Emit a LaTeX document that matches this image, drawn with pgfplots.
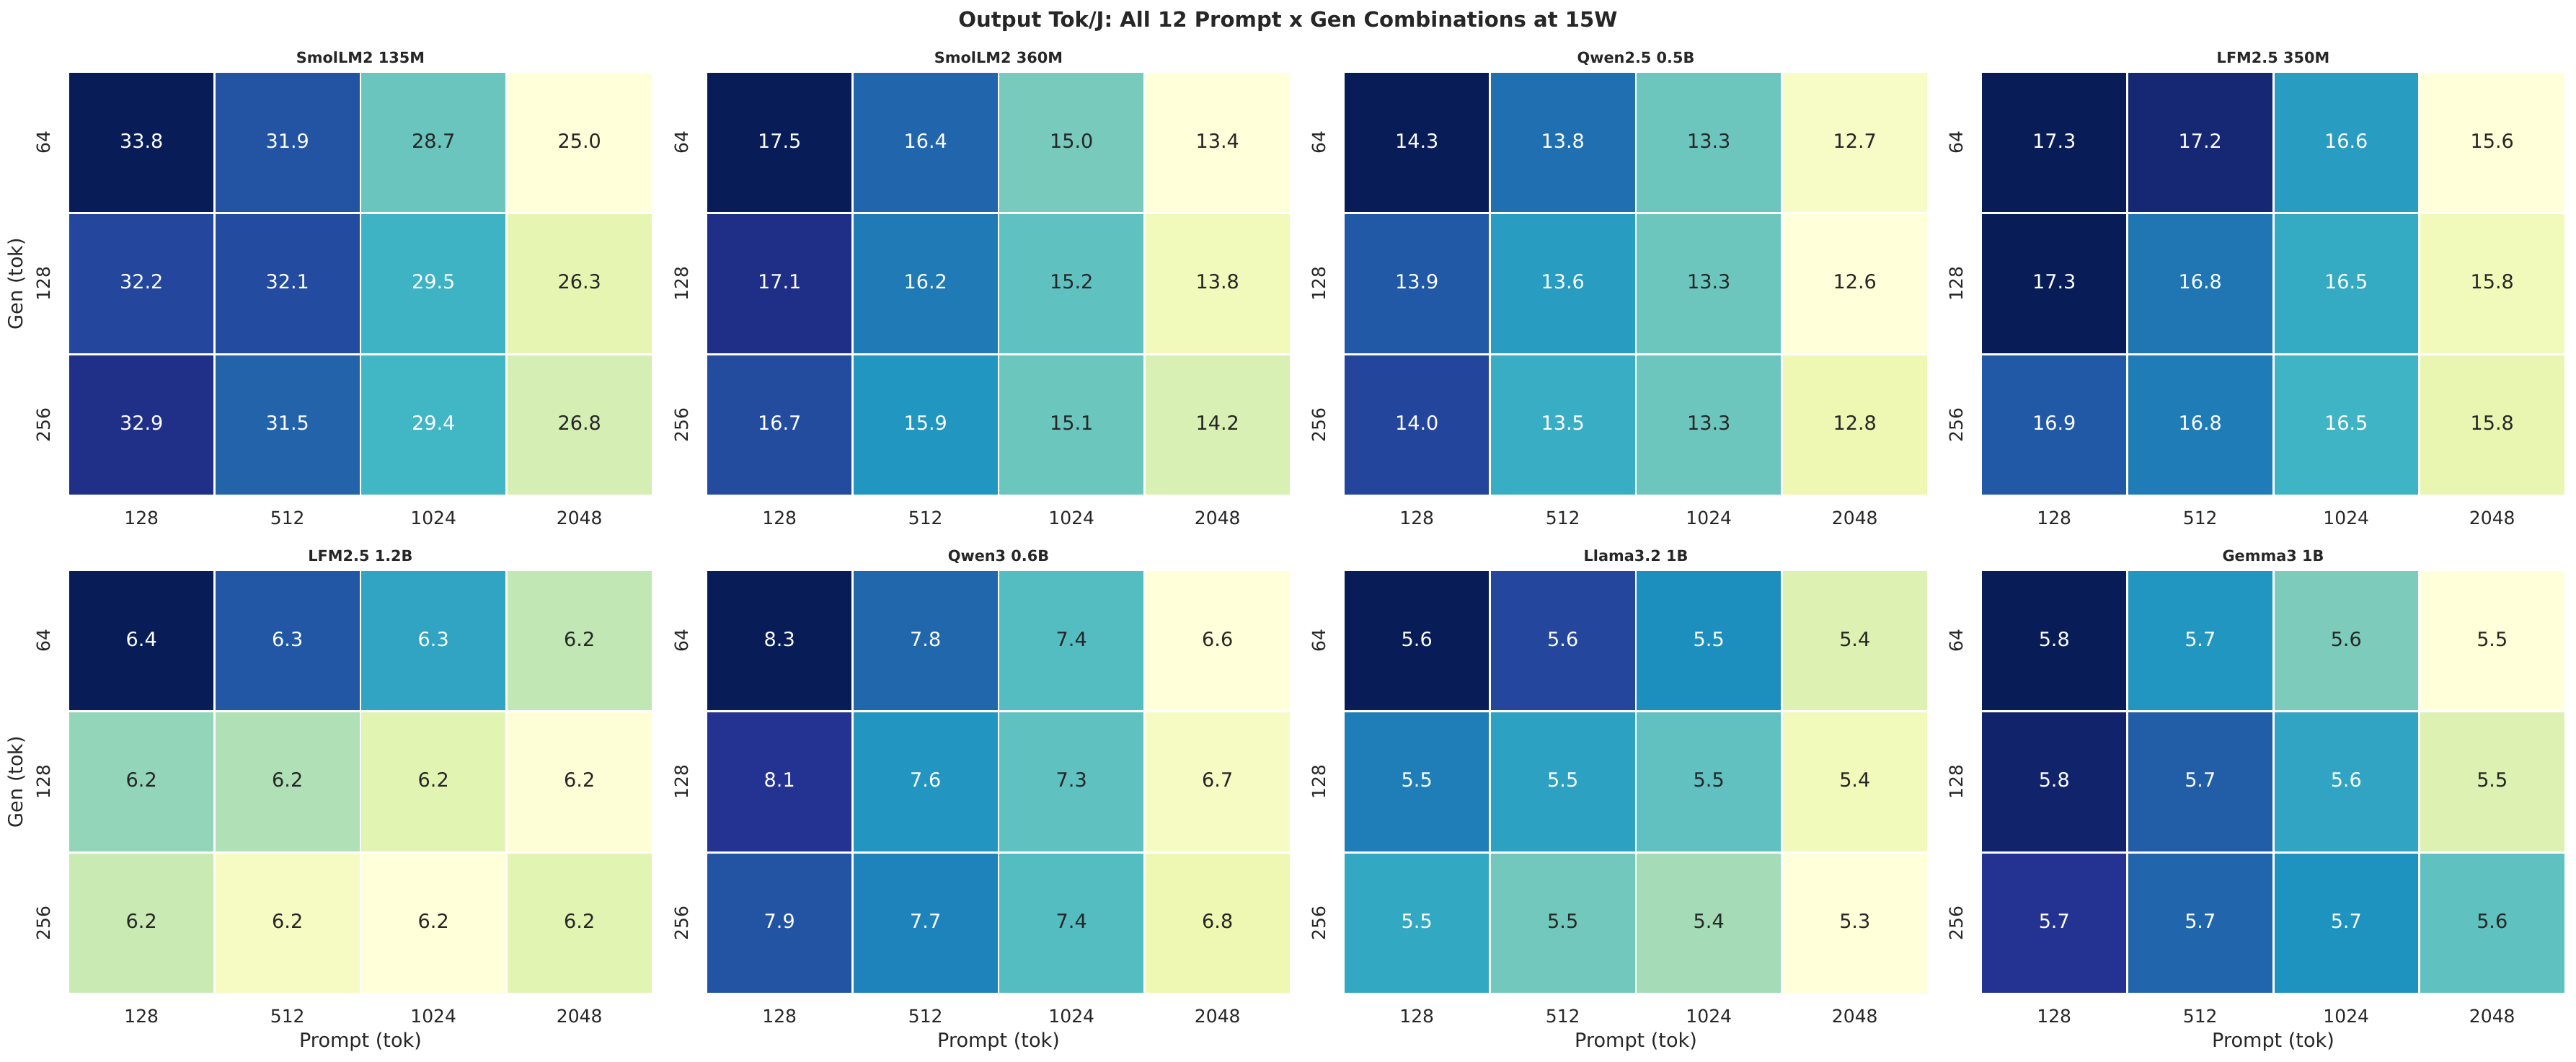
\documentclass[border=0pt]{standalone}
\usepackage{pgfplots}
\pgfplotsset{compat=1.18}
\usepackage{pgfplotstable}
\usepackage{fontspec}
\setmainfont{DejaVu Sans}
\definecolor{tdark}{RGB}{38,38,38}
\pgfplotsset{colormap={ylgnbu}{rgb255=(255,255,217) rgb255=(237,248,177) rgb255=(199,233,180) rgb255=(127,205,187) rgb255=(65,182,196) rgb255=(29,145,192) rgb255=(34,94,168) rgb255=(37,52,148) rgb255=(8,29,88)}}
\newcommand\annfont{\fontsize{13}{15.6}\selectfont}
\newcommand\tickfont{\fontsize{12}{14.4}\selectfont}
\newcommand\labfont{\fontsize{13}{15.6}\selectfont}
\newcommand\ttlfont{\fontsize{10}{12}\selectfont\bfseries}
\newcommand\supfont{\fontsize{14}{16.8}\selectfont\bfseries}

% x = prompt index (128,512,1024,2048), y = gen index (64,128,256), v = tok/J, w = white text flag
\pgfplotstableread{
x y v w
0 0 33.8 1
1 0 31.9 1
2 0 28.7 0
3 0 25.0 0
0 1 32.2 1
1 1 32.1 1
2 1 29.5 1
3 1 26.3 0
0 2 32.9 1
1 2 31.5 1
2 2 29.4 1
3 2 26.8 0
}\tA
\pgfplotstableread{
x y v w
0 0 17.5 1
1 0 16.4 1
2 0 15.0 0
3 0 13.4 0
0 1 17.1 1
1 1 16.2 1
2 1 15.2 0
3 1 13.8 0
0 2 16.7 1
1 2 15.9 1
2 2 15.1 0
3 2 14.2 0
}\tB
\pgfplotstableread{
x y v w
0 0 14.3 1
1 0 13.8 1
2 0 13.3 0
3 0 12.7 0
0 1 13.9 1
1 1 13.6 1
2 1 13.3 0
3 1 12.6 0
0 2 14.0 1
1 2 13.5 1
2 2 13.3 0
3 2 12.8 0
}\tC
\pgfplotstableread{
x y v w
0 0 17.3 1
1 0 17.2 1
2 0 16.6 1
3 0 15.6 0
0 1 17.3 1
1 1 16.78 1
2 1 16.52 1
3 1 15.76 0
0 2 16.9 1
1 2 16.75 1
2 2 16.46 1
3 2 15.84 0
}\tD
\pgfplotstableread{
x y v w
0 0 6.37 1
1 0 6.324 1
2 0 6.282 1
3 0 6.222 0
0 1 6.238 0
1 1 6.228 0
2 1 6.202 0
3 1 6.172 0
0 2 6.218 0
1 2 6.184 0
2 2 6.17 0
3 2 6.202 0
}\tE
\pgfplotstableread{
x y v w
0 0 8.31 1
1 0 7.84 1
2 0 7.38 0
3 0 6.58 0
0 1 8.10 1
1 1 7.63 1
2 1 7.34 0
3 1 6.70 0
0 2 7.93 1
1 2 7.72 1
2 2 7.38 0
3 2 6.79 0
}\tF
\pgfplotstableread{
x y v w
0 0 5.64 1
1 0 5.584 1
2 0 5.525 1
3 0 5.386 0
0 1 5.538 1
1 1 5.507 1
2 1 5.466 0
3 1 5.36 0
0 2 5.50 1
1 2 5.454 0
2 2 5.426 0
3 2 5.33 0
}\tG
\pgfplotstableread{
x y v w
0 0 5.77 1
1 0 5.653 1
2 0 5.584 0
3 0 5.47 0
0 1 5.758 1
1 1 5.695 1
2 1 5.638 1
3 1 5.524 0
0 2 5.734 1
1 2 5.689 1
2 2 5.656 1
3 2 5.602 0
}\tH

\pgfplotsset{hm/.style={
  scale only axis, width=388.8pt, height=281.76pt, anchor=north west,
  xmin=-0.5, xmax=3.5, ymin=-0.5, ymax=2.5, y dir=reverse, enlargelimits=false,
  colormap name=ylgnbu,
  xtick={0,1,2,3}, xticklabels={128,512,1024,2048},
  ytick={0,1,2}, yticklabels={64,128,256},
  minor xtick={-0.5,0.5,1.5,2.5,3.5}, minor ytick={-0.5,0.5,1.5,2.5},
  xminorgrids=true, yminorgrids=true,
  minor grid style={white, line width=1.4pt},
  major tick length=0pt, minor tick length=0pt,
  axis line style={draw=none},
  axis on top,
  xticklabel style={font=\tickfont, color=tdark, anchor=north, inner sep=0pt},
  yticklabel style={font=\tickfont, color=tdark, rotate=90, anchor=south, inner sep=0pt},
  xticklabel shift=10.5pt, yticklabel shift=12pt,
  txt/.style={draw=none, mark=none, point meta=explicit,
    nodes near coords={\pgfmathprintnumber[fixed, fixed zerofill, precision=1, assume math mode=true]{\pgfplotspointmeta}},
    every node near coord/.append style={anchor=center, inner sep=0pt, font=\annfont, yshift=1.2pt}},
}}

\newcommand\heat[1]{%
  \addplot[matrix plot*, mesh/cols=4, mesh/rows=3, point meta=explicit] table[x=x, y=y, meta=v] {#1};
  \addplot[txt, every node near coord/.append style={color=white},
    restrict expr to domain={\thisrow{w}}{0.5:1.5}] table[x=x, y=y, meta=v] {#1};
  \addplot[txt, every node near coord/.append style={color=tdark},
    restrict expr to domain={\thisrow{w}}{-0.5:0.5}] table[x=x, y=y, meta=v] {#1};
}

\begin{document}
\begin{tikzpicture}
\useasboundingbox (0,0) rectangle (1715.04pt,-706.56pt);

\begin{axis}[hm, at={(45.6pt,-48pt)}]
\heat{\tA}
\end{axis}
\begin{axis}[hm, at={(470.4pt,-48pt)}]
\heat{\tB}
\end{axis}
\begin{axis}[hm, at={(894.72pt,-48pt)}]
\heat{\tC}
\end{axis}
\begin{axis}[hm, at={(1319.04pt,-48pt)}]
\heat{\tD}
\end{axis}

\begin{axis}[hm, at={(45.6pt,-379.68pt)}]
\heat{\tE}
\end{axis}
\begin{axis}[hm, at={(470.4pt,-379.68pt)}]
\heat{\tF}
\end{axis}
\begin{axis}[hm, at={(894.72pt,-379.68pt)}]
\heat{\tG}
\end{axis}
\begin{axis}[hm, at={(1319.04pt,-379.68pt)}]
\heat{\tH}
\end{axis}

\node[font=\supfont, color=tdark, anchor=base] at (857.5pt,-17.76pt) {Output Tok/J: All 12 Prompt x Gen Combinations at 15W};

\node[font=\ttlfont, color=tdark, anchor=base] at (240pt,-42pt) {SmolLM2 135M};
\node[font=\ttlfont, color=tdark, anchor=base] at (664.8pt,-42pt) {SmolLM2 360M};
\node[font=\ttlfont, color=tdark, anchor=base] at (1089.12pt,-42pt) {Qwen2.5 0.5B};
\node[font=\ttlfont, color=tdark, anchor=base] at (1513.44pt,-42pt) {LFM2.5 350M};
\node[font=\ttlfont, color=tdark, anchor=base] at (240pt,-373.68pt) {LFM2.5 1.2B};
\node[font=\ttlfont, color=tdark, anchor=base] at (664.8pt,-373.68pt) {Qwen3 0.6B};
\node[font=\ttlfont, color=tdark, anchor=base] at (1089.12pt,-373.68pt) {Llama3.2 1B};
\node[font=\ttlfont, color=tdark, anchor=base] at (1513.44pt,-373.68pt) {Gemma3 1B};

\node[font=\labfont, color=tdark, anchor=base] at (240pt,-696.96pt) {Prompt (tok)};
\node[font=\labfont, color=tdark, anchor=base] at (664.8pt,-696.96pt) {Prompt (tok)};
\node[font=\labfont, color=tdark, anchor=base] at (1089.12pt,-696.96pt) {Prompt (tok)};
\node[font=\labfont, color=tdark, anchor=base] at (1513.44pt,-696.96pt) {Prompt (tok)};

\node[font=\labfont, color=tdark, rotate=90, anchor=base] at (15.1pt,-188.9pt) {Gen (tok)};
\node[font=\labfont, color=tdark, rotate=90, anchor=base] at (15.1pt,-520.6pt) {Gen (tok)};
\end{tikzpicture}
\end{document}
